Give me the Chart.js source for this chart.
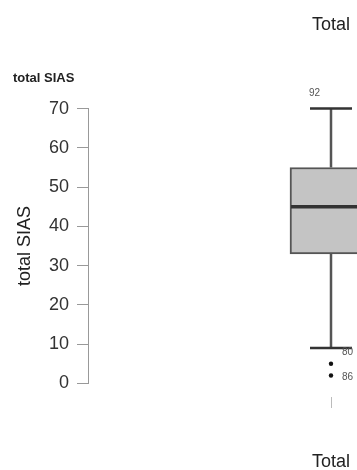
<!DOCTYPE html>
<html>
<head>
<meta charset="utf-8">
<script src="https://cdn.jsdelivr.net/npm/chart.js@4.4.0/dist/chart.umd.min.js"></script>
<style>
  html, body { margin: 0; padding: 0; overflow: hidden; background: #fff; }
</style>
</head>
<body>
<canvas id="boxChart" width="662" height="470"></canvas>
<script>
// data
const categories = ["Total"];
const whiskerLow = [9];
const q1 = [33];
const median = [45];
const q3 = [55];
const whiskerHigh = [70];
const outlierValues = [74, 5, 2];
const outlierLabels = ["92", "80", "86"];
const yTicks = [0, 10, 20, 30, 40, 50, 60, 70];

const FONT = "'Liberation Sans', Arial, sans-serif";

// whiskers, caps, median + outlier ids
const boxPlugin = {
    id: 'boxExtras',
    beforeDatasetsDraw(chart) {
        const {ctx, scales: {x, y}} = chart;
        ctx.save();
        categories.forEach((c, i) => {
            const cx = x.getPixelForValue(i);
            ctx.strokeStyle = '#555';
            ctx.lineWidth = 2.5;
            ctx.beginPath();
            ctx.moveTo(cx, y.getPixelForValue(whiskerLow[i]));
            ctx.lineTo(cx, y.getPixelForValue(q1[i]));
            ctx.moveTo(cx, y.getPixelForValue(q3[i]));
            ctx.lineTo(cx, y.getPixelForValue(whiskerHigh[i]));
            ctx.stroke();
            ctx.strokeStyle = '#333';
            ctx.beginPath();
            [whiskerLow[i], whiskerHigh[i]].forEach(v => {
                const py = y.getPixelForValue(v);
                ctx.moveTo(cx - 21, py);
                ctx.lineTo(cx + 21, py);
            });
            ctx.stroke();
        });
        ctx.restore();
    },
    afterDatasetsDraw(chart) {
        const {ctx, scales: {x, y}} = chart;
        ctx.save();
        categories.forEach((c, i) => {
            const cx = x.getPixelForValue(i);
            const py = y.getPixelForValue(median[i]);
            ctx.strokeStyle = '#333';
            ctx.lineWidth = 3.5;
            ctx.beginPath();
            ctx.moveTo(cx - 40, py);
            ctx.lineTo(cx + 40, py);
            ctx.stroke();
        });
        // outlier case numbers
        const labelOffsets = [[-11, 0, 'right'], [11, -12, 'left'], [11, 2, 'left']];
        ctx.font = "10px " + FONT;
        ctx.fillStyle = '#555';
        ctx.textBaseline = 'middle';
        outlierValues.forEach((v, k) => {
            const px = x.getPixelForValue(0);
            const py = y.getPixelForValue(v);
            const [dx, dy, al] = labelOffsets[k];
            ctx.textAlign = al;
            ctx.fillText(outlierLabels[k], px + dx, py + dy);
        });
        // little bold header at top left
        ctx.font = "bold 13px " + FONT;
        ctx.fillStyle = '#222';
        ctx.textAlign = 'left';
        ctx.fillText('total SIAS', 13, 78);
        ctx.restore();
    }
};

new Chart("boxChart", {
    type: "bar",
    data: {
        labels: categories,
        datasets: [{
            data: categories.map((c, i) => [q1[i], q3[i]]),
            backgroundColor: '#c4c4c4',
            borderColor: '#555',
            borderWidth: 2,
            borderSkipped: false,
            barThickness: 82,
            grouped: false
        }, {
            type: 'line',
            data: outlierValues.map(v => ({x: categories[0], y: v})),
            showLine: false,
            pointRadius: 2.2,
            pointBackgroundColor: '#111',
            pointBorderWidth: 0,
            clip: false
        }]
    },
    options: {
        responsive: false,
        animation: false,
        layout: {padding: {left: 0, right: 88, bottom: 0}},
        plugins: {
            legend: {display: false},
            tooltip: {enabled: false},
            title: {
                display: true,
                fullSize: false,
                text: 'Total',
                color: '#222',
                font: {family: FONT, size: 18, weight: 'normal'},
                padding: {top: 14, bottom: 73}
            }
        },
        scales: {
            x: {
                border: {display: false},
                grid: {
                    offset: false,
                    drawOnChartArea: false,
                    tickLength: 25,
                    color: '#bbb',
                    tickBorderDash: [0, 14, 11, 200]
                },
                ticks: {display: false},
                title: {
                    display: true,
                    text: 'Total',
                    color: '#222',
                    font: {family: FONT, size: 18},
                    padding: {top: 43, bottom: -3}
                }
            },
            y: {
                min: 0,
                max: 70,
                afterFit: s => { s.width = 88; },
                afterBuildTicks: s => { s.ticks = yTicks.map(v => ({value: v})); },
                border: {display: true, color: '#999', width: 1},
                grid: {drawOnChartArea: false, tickLength: 11, color: '#999'},
                ticks: {color: '#333', padding: 8, font: {family: FONT, size: 18}},
                title: {
                    display: true,
                    text: 'total SIAS',
                    color: '#222',
                    font: {family: FONT, size: 18},
                    padding: {top: 14, bottom: 0}
                }
            }
        }
    },
    plugins: [boxPlugin]
});
</script>
</body>
</html>
